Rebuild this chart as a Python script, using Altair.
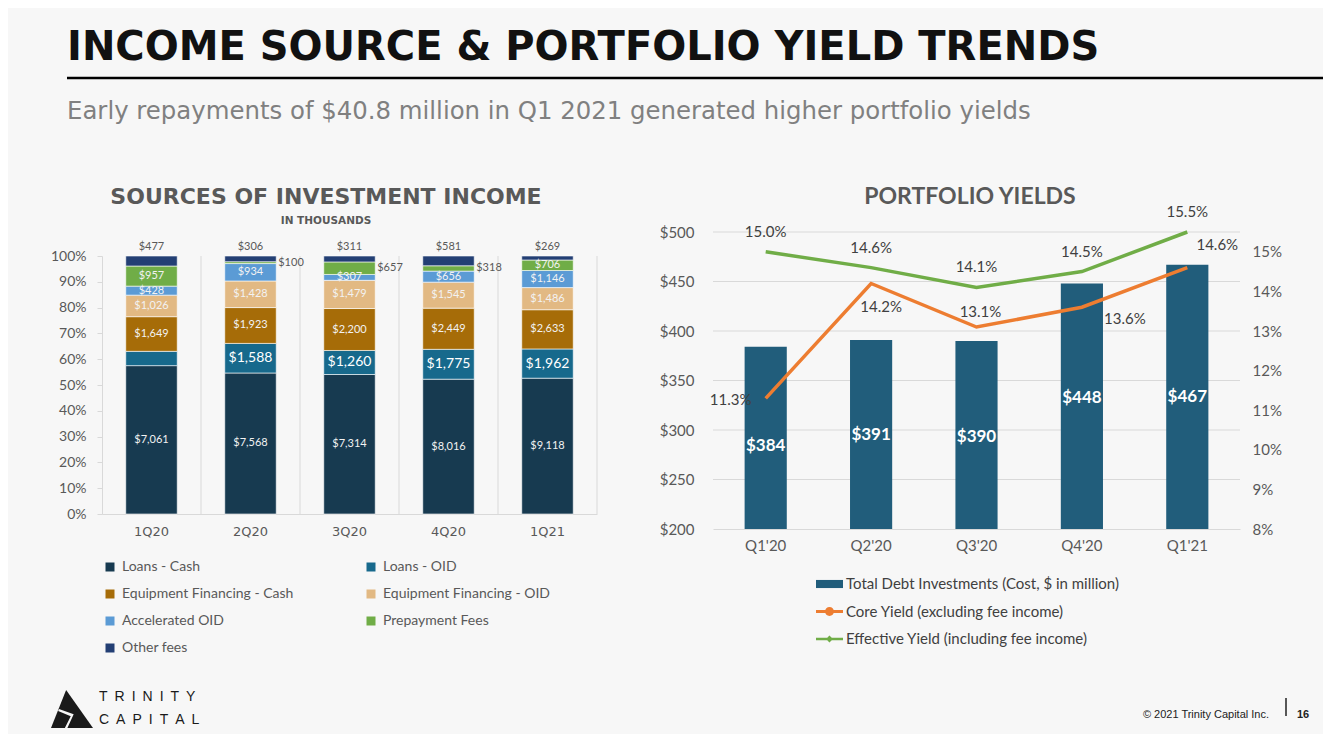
import altair as alt
import pandas as pd

# ---------------- data ----------------
quarters = ["1Q20", "2Q20", "3Q20", "4Q20", "1Q21"]
sources = ["Loans - Cash", "Loans - OID", "Equipment Financing - Cash",
           "Equipment Financing - OID", "Accelerated OID", "Prepayment Fees", "Other fees"]
loans_cash = [7061, 7568, 7314, 8016, 9118]
loans_oid = [680, 1588, 1260, 1775, 1962]      # 1Q20 is not labelled
equip_cash = [1649, 1923, 2200, 2449, 2633]
equip_oid = [1026, 1428, 1479, 1545, 1486]
accelerated_oid = [428, 934, 307, 656, 1146]
prepayment_fees = [957, 100, 657, 318, 706]
other_fees = [477, 306, 311, 581, 269]
pct_ticks = [0, 0.1, 0.2, 0.3, 0.4, 0.5, 0.6, 0.7, 0.8, 0.9, 1.0]

yield_quarters = ["Q1'20", "Q2'20", "Q3'20", "Q4'20", "Q1'21"]
debt_investments = [384, 391, 390, 448, 467]
core_yield = [11.3, 14.2, 13.1, 13.6, 14.6]
effective_yield = [15.0, 14.6, 14.1, 14.5, 15.5]
usd_ticks = [200, 250, 300, 350, 400, 450, 500]
yield_ticks = [8, 9, 10, 11, 12, 13, 14, 15]
yield_series = ["Total Debt Investments (Cost, $ in million)",
                "Core Yield (excluding fee income)",
                "Effective Yield (including fee income)"]

# ---------------- style ----------------
W, H = 1315, 726
M = 8


def px(p):
    return p - M


FONT = "Lato"
GRAY = "#595959"
DARK = "#404040"
GRID = "#d9d9d9"
BG = "#f7f7f7"
src_colors = ["#173a50", "#17698c", "#a66c08", "#e2b983", "#5b9bd5", "#70ad47", "#233f74"]
BAR_R = "#215d7b"
ORANGE = "#ed7d31"
GREEN = "#70ad47"

xL = alt.Scale(type="band", domain=quarters, range=[px(102), px(597)], paddingInner=0.48, paddingOuter=0.24)
xSep = alt.Scale(type="band", domain=quarters, range=[px(102), px(597)], paddingInner=0, paddingOuter=0)
yL = alt.Scale(type="linear", domain=[0, 1], range=[px(514), px(256)], nice=False, zero=False)
xR = alt.Scale(type="band", domain=yield_quarters, range=[px(713), px(1240)], paddingInner=0.6, paddingOuter=0.3)
yR = alt.Scale(type="linear", domain=[200, 500], range=[px(529), px(232)], nice=False, zero=False)
yP = alt.Scale(type="linear", domain=[8, 15.5], range=[px(529), px(232)], nice=False, zero=False)

# ---------------- left: sources of investment income ----------------
rows = []
for si, (src, vals) in enumerate(zip(sources, [loans_cash, loans_oid, equip_cash, equip_oid,
                                               accelerated_oid, prepayment_fees, other_fees])):
    for q, v in zip(quarters, vals):
        if src == "Other fees":
            place = "above"
        elif src == "Prepayment Fees" and q in ("2Q20", "3Q20", "4Q20"):
            place = "right"
        elif src == "Loans - OID":
            place = "none" if q == "1Q20" else "big"
        else:
            place = "inside"
        rows.append({"q": q, "source": src, "value": v, "idx": si, "place": place})
income = pd.DataFrame(rows)

stacked = alt.Chart(income).transform_stack(
    stack="value", groupby=["q"], as_=["s0", "s1"], offset="normalize",
    sort=[alt.SortField("idx", order="ascending")]
).transform_calculate(mid="(datum.s0 + datum.s1) / 2")

leg_left = alt.Legend(orient="none", legendX=px(103), legendY=px(567) - 7, title=None, columns=2,
                      direction="horizontal",
                      symbolType="square", symbolSize=81, symbolStrokeWidth=0,
                      labelFont=FONT, labelFontSize=14, labelColor=GRAY, labelOffset=5,
                      columnPadding=70, rowPadding=13, padding=0, labelLimit=300)

bars_left = stacked.mark_bar(stroke="#ffffff", strokeWidth=0.6).encode(
    x=alt.X("q:N", scale=xL, axis=alt.Axis(orient="bottom", offset=px(514) - H, title=None, labelAngle=0,
                                           ticks=False, grid=False, domain=True, domainColor=GRID,
                                           labelFont="DejaVu Sans", labelFontSize=13, labelColor=GRAY,
                                           labelPadding=11)),
    y=alt.Y("s0:Q", scale=yL, axis=alt.Axis(orient="left", offset=-px(102), title=None, values=pct_ticks,
                                            format=".0%", grid=False, domain=True, domainColor=GRID,
                                            ticks=True, tickColor=GRID, tickSize=5, labelFont=FONT,
                                            labelFontSize=14, labelColor=GRAY, labelPadding=11)),
    y2="s1:Q",
    color=alt.Color("source:N", scale=alt.Scale(domain=sources, range=src_colors), legend=leg_left),
)

separators = alt.Chart(pd.DataFrame({"q": quarters})).mark_rule(color=GRID, strokeWidth=1).encode(
    x=alt.X("q:N", scale=xSep, axis=None, bandPosition=1),
    y=alt.YDatum(0, scale=yL, axis=None),
    y2=alt.Y2Datum(1),
)

lbl_inside = stacked.transform_filter("datum.place == 'inside'").mark_text(
    font=FONT, fontSize=11, color="#f2f2f2").encode(
    x=alt.X("q:N", scale=xL, axis=None), y=alt.Y("mid:Q", scale=yL, axis=None),
    text=alt.Text("value:Q", format="$,.0f"))
lbl_big = stacked.transform_filter("datum.place == 'big'").mark_text(
    font=FONT, fontSize=14, color="#ffffff").encode(
    x=alt.X("q:N", scale=xL, axis=None), y=alt.Y("mid:Q", scale=yL, axis=None),
    text=alt.Text("value:Q", format="$,.0f"))
lbl_above = stacked.transform_filter("datum.place == 'above'").mark_text(
    font=FONT, fontSize=11, color=GRAY, dy=-9).encode(
    x=alt.X("q:N", scale=xL, axis=None), y=alt.Y("s1:Q", scale=yL, axis=None),
    text=alt.Text("value:Q", format="$,.0f"))
lbl_right = stacked.transform_filter("datum.place == 'right'").mark_text(
    font=FONT, fontSize=11, color=GRAY, align="left", dx=2).encode(
    x=alt.X("q:N", scale=xL, axis=None, bandPosition=1), y=alt.Y("mid:Q", scale=yL, axis=None),
    text=alt.Text("value:Q", format="$,.0f"))

# ---------------- right: portfolio yields ----------------
yields = pd.DataFrame({"q": yield_quarters, "debt": debt_investments, "core": core_yield,
                       "eff": effective_yield, "i": [0, 1, 2, 3, 4]})

grid_right = alt.Chart(pd.DataFrame({"v": usd_ticks[1:]})).mark_rule(color=GRID, strokeWidth=1).encode(
    y=alt.Y("v:Q", scale=yR, axis=None), x=alt.value(px(713)), x2=alt.value(px(1240)))

bars_right = alt.Chart(yields).mark_bar(color=BAR_R).encode(
    x=alt.X("q:N", scale=xR, axis=alt.Axis(orient="bottom", offset=px(529) - H, title=None, labelAngle=0,
                                           ticks=False, grid=False, domain=True, domainColor=GRID,
                                           labelFont=FONT, labelFontSize=15, labelColor=GRAY, labelPadding=9)),
    y=alt.Y("debt:Q", scale=yR, axis=alt.Axis(orient="left", offset=-px(713), title=None, values=usd_ticks,
                                              format="$,.0f", grid=False, domain=False, ticks=False,
                                              labelFont=FONT, labelFontSize=15, labelColor=GRAY,
                                              labelPadding=19)),
    y2=alt.Y2Datum(200),
)

line_core = alt.Chart(yields).mark_line(color=ORANGE, strokeWidth=3.5).encode(
    x=alt.X("q:N", scale=xR, axis=None),
    y=alt.Y("core:Q", scale=yP, axis=alt.Axis(orient="right", offset=px(1240) - W, title=None,
                                              values=yield_ticks, labelExpr="datum.value + '%'",
                                              grid=False, domain=False, ticks=False, labelFont=FONT,
                                              labelFontSize=15, labelColor=GRAY, labelPadding=12)),
    order="i:Q",
)
line_eff = alt.Chart(yields).mark_line(color=GREEN, strokeWidth=3.5).encode(
    x=alt.X("q:N", scale=xR, axis=None), y=alt.Y("eff:Q", scale=yP, axis=None), order="i:Q")

lbl_eff = alt.Chart(yields).transform_calculate(t="format(datum.eff, '.1f') + '%'").mark_text(
    font=FONT, fontSize=15, color=DARK, dy=-20).encode(
    x=alt.X("q:N", scale=xR, axis=None), y=alt.Y("eff:Q", scale=yP, axis=None), text="t:N")

core_offsets = [(-35, 2), (10, 24), (4, -15), (43, 12), (30, -23)]
bar_label_dy = [99, 95, 96, 115, 132]
core_labels = []
bar_labels = []
for k in range(5):
    dx, dy = core_offsets[k]
    core_labels.append(
        alt.Chart(yields).transform_filter(f"datum.i == {k}")
        .transform_calculate(t="format(datum.core, '.1f') + '%'")
        .mark_text(font=FONT, fontSize=15, color=DARK, dx=dx, dy=dy)
        .encode(x=alt.X("q:N", scale=xR, axis=None), y=alt.Y("core:Q", scale=yP, axis=None), text="t:N"))
    bar_labels.append(
        alt.Chart(yields).transform_filter(f"datum.i == {k}")
        .mark_text(font=FONT, fontSize=17, fontWeight="bold", color="#ffffff", dy=bar_label_dy[k])
        .encode(x=alt.X("q:N", scale=xR, axis=None), y=alt.Y("debt:Q", scale=yR, axis=None),
                text=alt.Text("debt:Q", format="$,.0f")))

sym_bar = "M-1,-0.3H1V0.3H-1Z"
sym_core = "M-1,-0.11H1V0.11H-1Z M0.33,0 A0.33,0.33 0 1,1 -0.33,0 A0.33,0.33 0 1,1 0.33,0 Z"
sym_eff = "M-1,-0.09H1V0.09H-1Z M0,-0.26 L0.26,0 L0,0.26 L-0.26,0 Z"
leg_right = alt.Legend(orient="none", legendX=px(816), legendY=px(584) - 13.5, title=None,
                       direction="vertical", symbolSize=729, symbolStrokeWidth=0,
                       labelFont=FONT, labelFontSize=15, labelColor=DARK, labelOffset=3,
                       rowPadding=5.5, padding=0, labelLimit=400)
legend_right = alt.Chart(pd.DataFrame({"series": yield_series})).transform_filter("false").mark_point(
    filled=True, size=729, opacity=1).encode(
    color=alt.Color("series:N", scale=alt.Scale(domain=yield_series, range=[BAR_R, ORANGE, GREEN]),
                    legend=leg_right),
    shape=alt.Shape("series:N", scale=alt.Scale(domain=yield_series, range=[sym_bar, sym_core, sym_eff]),
                    legend=leg_right),
)

# ---------------- slide texts ----------------
one = pd.DataFrame({"k": [0]})


def text(t, x, y, **kw):
    return alt.Chart(one).mark_text(**kw).encode(x=alt.value(x), y=alt.value(y), text=alt.value(t))


title = text("INCOME SOURCE & PORTFOLIO YIELD TRENDS", px(67), px(60), font="DejaVu Sans",
             fontWeight="bold", fontSize=40, color="#111111", align="left", baseline="alphabetic")
title_rule = alt.Chart(one).mark_rule(color="#000000", strokeWidth=2.5).encode(
    x=alt.value(px(67)), x2=alt.value(W), y=alt.value(px(78)))
subtitle = text("Early repayments of $40.8 million in Q1 2021 generated higher portfolio yields",
                px(67), px(119), font="DejaVu Sans", fontSize=24.4, color="#808080", align="left",
                baseline="alphabetic")
left_title = text("SOURCES OF INVESTMENT INCOME", px(326), px(197), font="DejaVu Sans", fontWeight="bold",
                  fontSize=22, color=GRAY, align="center", baseline="middle")
left_sub = text("IN THOUSANDS", px(326), px(221), font="DejaVu Sans", fontWeight="bold",
                fontSize=10.5, color=GRAY, align="center", baseline="middle")
right_title = text("PORTFOLIO YIELDS", px(970), px(197), font=FONT, fontWeight="bold",
                   fontSize=23, color=GRAY, align="center", baseline="middle")

copyright_t = text("© 2021 Trinity Capital Inc.", px(1269), px(715), font="Liberation Sans", fontSize=11,
                   color="#222222", align="right", baseline="middle")
page_bar = alt.Chart(one).mark_rule(color="#222222", strokeWidth=1.5).encode(
    x=alt.value(px(1286)), y=alt.value(px(698)), y2=alt.value(px(716)))
page_no = text("16", px(1297), px(715), font="Liberation Sans", fontSize=11, fontWeight="bold",
               color="#222222", align="left", baseline="middle")

logo_tri = alt.Chart(one).mark_point(shape="M-0.28,-0.9 L1,0.9 L-1,0.9 Z", filled=True, color="#1a1a1a",
                                     size=1764, opacity=1, strokeWidth=0).encode(
    x=alt.value(px(72)), y=alt.value(px(709)))
logo_cut = alt.Chart(one).mark_point(shape="M-0.62,0.0 L0.08,0.25 L-0.22,0.9 L-0.34,0.9 L-0.06,0.34 L-0.66,0.1 Z",
                                     filled=True, color=BG, size=1764, opacity=1, strokeWidth=0).encode(
    x=alt.value(px(72)), y=alt.value(px(709)))
logo_t1 = text("T\u2002R\u2002I\u2002N\u2002I\u2002T\u2002Y", px(99), px(697), font="Liberation Sans",
               fontSize=14, color="#1a1a1a", align="left", baseline="middle")
logo_t2 = text("C\u2002A\u2002P\u2002I\u2002T\u2002A\u2002L", px(99), px(720), font="Liberation Sans",
               fontSize=14, color="#1a1a1a", align="left", baseline="middle")

layers = [separators, bars_left, lbl_inside, lbl_big, lbl_above, lbl_right,
          grid_right, bars_right, line_core, line_eff, lbl_eff] + core_labels + bar_labels + [
          legend_right, title, title_rule, subtitle, left_title, left_sub, right_title,
          copyright_t, page_bar, page_no, logo_tri, logo_cut, logo_t1, logo_t2]

chart = alt.layer(*layers).resolve_scale(
    x="independent", y="independent", color="independent", shape="independent"
).resolve_legend(color="independent", shape="independent").properties(
    width=W, height=H, padding=0, autosize=alt.AutoSizeParams(type="none"), background=BG
).configure_view(strokeWidth=0)

chart.save("out.html", embed_options={"renderer": "svg", "actions": False})
